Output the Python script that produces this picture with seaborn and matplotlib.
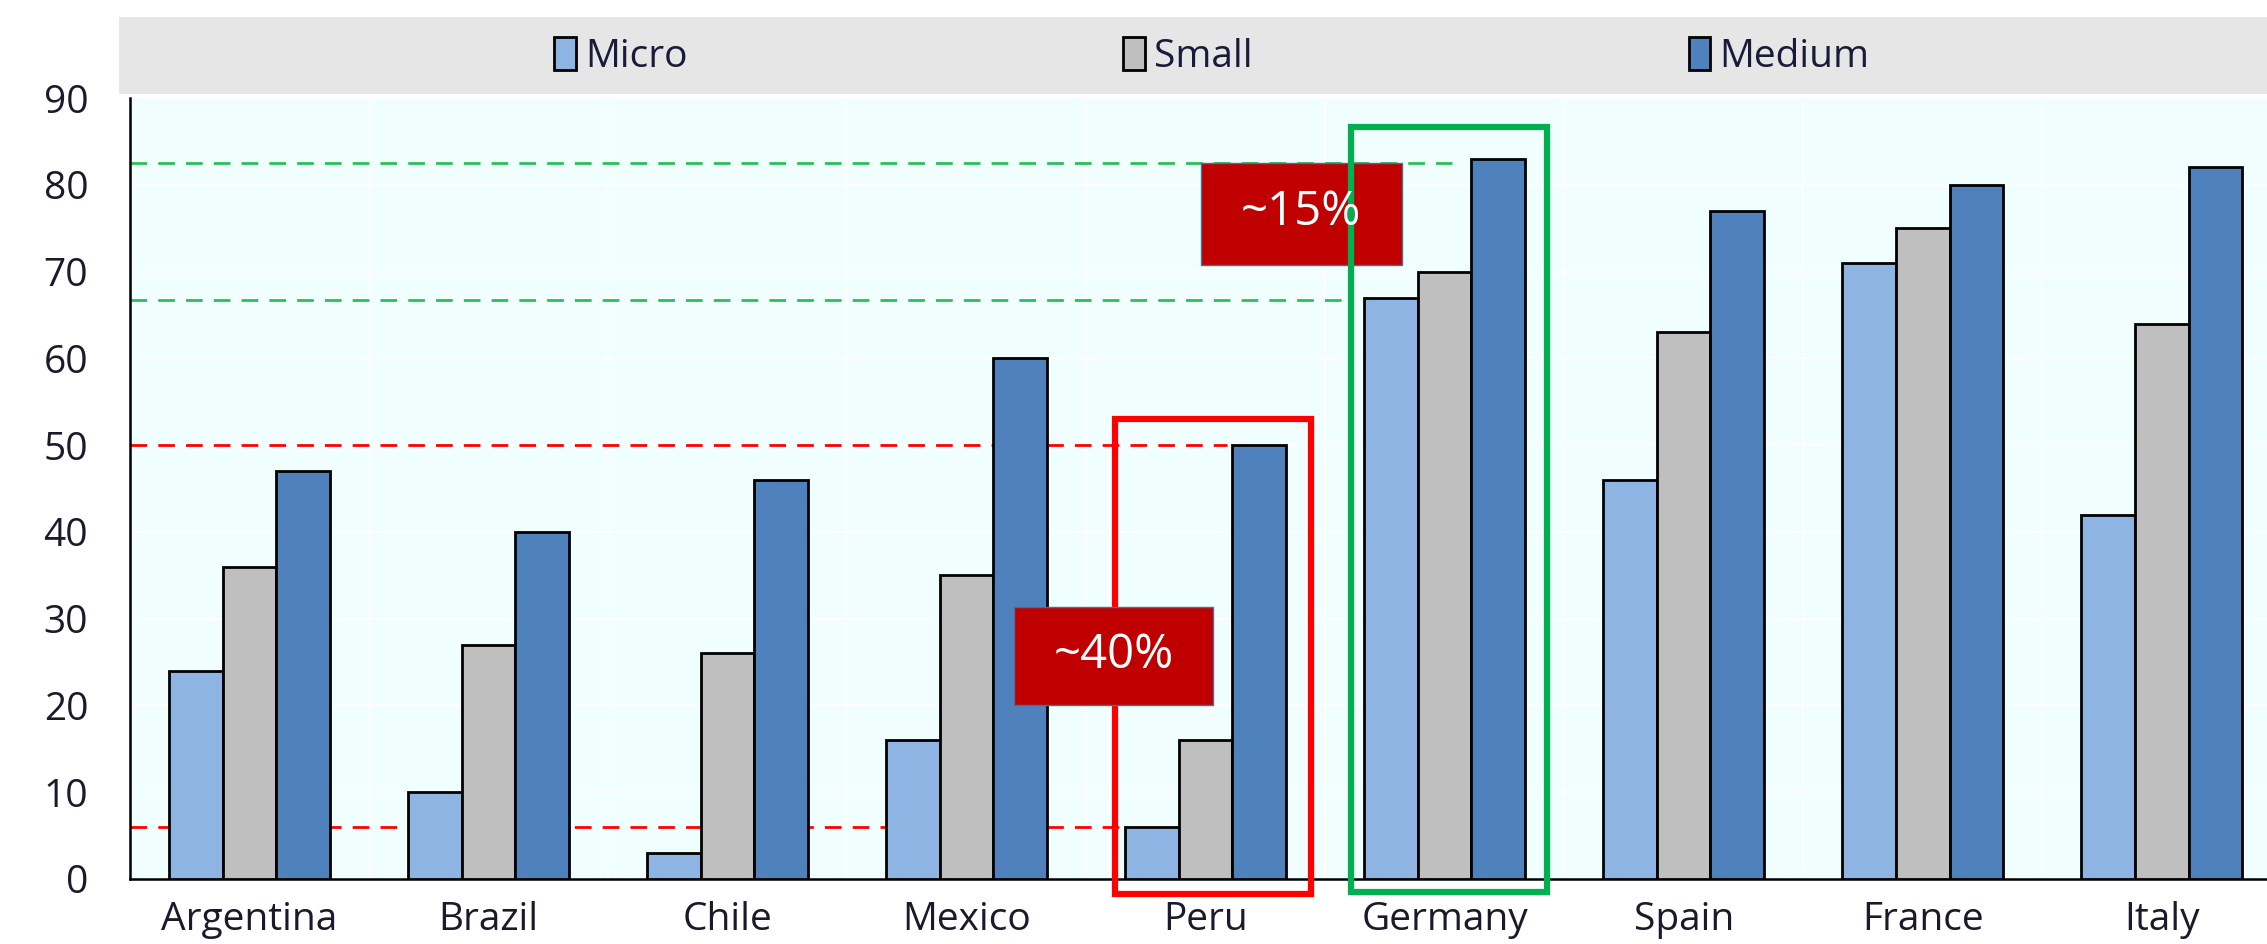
import matplotlib
matplotlib.use("Agg")
import matplotlib.pyplot as plt
from matplotlib.patches import Rectangle
import seaborn as sns
import pandas as pd

# valori
countries = ["Argentina", "Brazil", "Chile", "Mexico", "Peru", "Germany", "Spain", "France", "Italy"]
micro = [24, 10, 3, 16, 6, 67, 46, 71, 42]
small = [36, 27, 26, 35, 16, 70, 63, 75, 64]
medium = [47, 40, 46, 60, 50, 83, 77, 80, 82]
sizes = ["Micro", "Small", "Medium"]
colors = ["#8EB4E3", "#BFBFBF", "#4F81BD"]
y_ticks = [0, 10, 20, 30, 40, 50, 60, 70, 80, 90]

df = pd.DataFrame({"country": countries * 3,
                   "size": [s for s in sizes for _ in countries],
                   "value": micro + small + medium})

sns.set_style("white")
plt.rcParams["font.family"] = ["Open Sans", "DejaVu Sans"]

fig = plt.figure(figsize=(22.67, 9.44), dpi=100)
ax = fig.add_axes([0.0573, 0.0689, 0.9427, 0.8272])

# banda grigia della legenda
fig.patches.append(Rectangle((0.0523, 0.9004), 0.9477, 0.0816, transform=fig.transFigure,
                             facecolor="#E6E6E6", edgecolor="none", zorder=0))

ax.set_facecolor("#F1FEFE")
sns.barplot(data=df, x="country", y="value", hue="size", palette=colors, width=0.672,
            edgecolor="black", linewidth=2.0, saturation=1, ax=ax, zorder=3)
handles, labels = ax.get_legend_handles_labels()
ax.get_legend().remove()

ax.set_xlim(-0.5, 8.44)
ax.set_ylim(0, 90)
ax.set_yticks(y_ticks)
ax.set_xlabel("")
ax.set_ylabel("")

# griglia bianca leggera
for yv in y_ticks[1:]:
    ax.axhline(yv, color="white", lw=1.2, zorder=1)
for i in range(len(countries)):
    ax.axvline(i + 0.5, color="white", lw=1.2, zorder=1)

for s in ["top", "right"]:
    ax.spines[s].set_visible(False)
for s in ["left", "bottom"]:
    ax.spines[s].set_color("black")
    ax.spines[s].set_linewidth(1.8)

ax.tick_params(axis="y", direction="in", length=8, width=1.8, pad=30, labelsize=28, labelcolor="#1A1A2A")
ax.tick_params(axis="x", which="major", length=0, pad=16, labelsize=28, labelcolor="#1A1A2A")
ax.set_xticks([i + 0.5 for i in range(len(countries) - 1)], minor=True)
ax.tick_params(axis="x", which="minor", direction="in", length=8, width=1.8)

# linee tratteggiate di riferimento
peru = countries.index("Peru")
ger = countries.index("Germany")
dash = (0, (6, 4))
ax.hlines(medium[ger] - 0.5, -0.5, 5.03, colors="#2DBE5A", linestyles=dash, lw=2, zorder=2)
ax.hlines(micro[ger] - 0.3, -0.5, 4.61, colors="#2DBE5A", linestyles=dash, lw=2, zorder=2)
ax.hlines(medium[peru], -0.5, 4.09, colors="#FF0000", linestyles=dash, lw=2, zorder=2)
ax.hlines(micro[peru], -0.5, 3.64, colors="#FF0000", linestyles=dash, lw=2, zorder=2)

# riquadri evidenziati
ax.add_patch(Rectangle((3.62, -1.7), 0.82, 54.7, fill=False, edgecolor="#FF0000", lw=4.5,
                       clip_on=False, zorder=6))
ax.add_patch(Rectangle((4.61, -1.5), 0.82, 88.2, fill=False, edgecolor="#00B050", lw=4.5,
                       clip_on=False, zorder=6))

# etichette percentuali
ax.add_patch(Rectangle((3.98, 70.8), 0.84, 11.7, facecolor="#C00000", edgecolor="#41719C",
                       lw=1, zorder=5))
ax.text(4.40, 76.8, "~15%", color="white", fontsize=34, ha="center", va="center", zorder=7)
ax.add_patch(Rectangle((3.20, 20.0), 0.83, 11.3, facecolor="#C00000", edgecolor="#41719C",
                       lw=1, zorder=7))
ax.text(3.615, 25.8, "~40%", color="white", fontsize=34, ha="center", va="center", zorder=8)

fig.legend(handles, labels, loc="center left", bbox_to_anchor=(0.229, 0.940), ncol=3, frameon=False,
           fontsize=28, handlelength=0.55, handleheight=0.9, handletextpad=0.25, columnspacing=11.2,
           labelcolor="#1A1A3A")

fig.savefig("out.png", dpi=100)
